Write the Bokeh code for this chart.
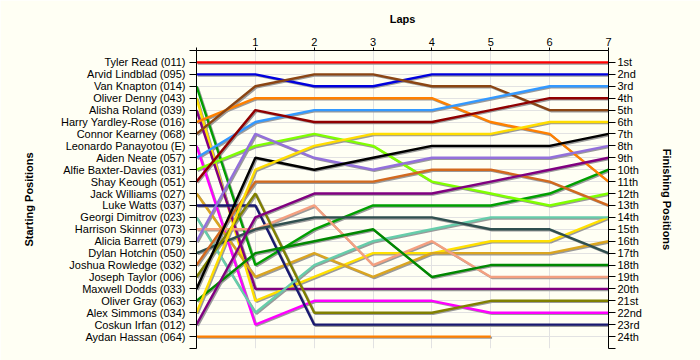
from bokeh.plotting import figure
from bokeh.models import Range1d, LinearAxis, FixedTicker, ColumnDataSource
from bokeh.transform import dodge
from bokeh.embed import file_html
from bokeh.resources import INLINE

# ---------------- data ----------------
laps = [0, 1, 2, 3, 4, 5, 6, 7]
lap_labels = ["", "1", "2", "3", "4", "5", "6", "7"]

starting_names = [
    "Tyler Read (011)", "Arvid Lindblad (095)", "Van Knapton (014)", "Oliver Denny (043)",
    "Alisha Roland (039)", "Harry Yardley-Rose (016)", "Connor Kearney (068)",
    "Leonardo Panayotou (E)", "Aiden Neate (057)", "Alfie Baxter-Davies (031)",
    "Shay Keough (051)", "Jack Williams (027)", "Luke Watts (037)", "Georgi Dimitrov (023)",
    "Harrison Skinner (073)", "Alicia Barrett (079)", "Dylan Hotchin (050)",
    "Joshua Rowledge (032)", "Joseph Taylor (006)", "Maxwell Dodds (033)",
    "Oliver Gray (063)", "Alex Simmons (034)", "Coskun Irfan (012)", "Aydan Hassan (064)",
]

finish_labels = [
    "1st", "2nd", "3rd", "4th", "5th", "6th", "7th", "8th", "9th", "10th", "11th", "12th",
    "13th", "14th", "15th", "16th", "17th", "18th", "19th", "20th", "21st", "22nd", "23rd", "24th",
]

# position of each driver after each lap (lap 0 = start)
tyler_read = [1, 1, 1, 1, 1, 1, 1, 1]
arvid_lindblad = [2, 2, 3, 3, 2, 2, 2, 2]
van_knapton = [3, 18, 15, 13, 13, 13, 12, 10]
oliver_denny = [4, 21, 19, 17, 17, 16, 16, 14]
alisha_roland = [5, 20, 20, 20, 20, 20, 20, 20]
harry_yardley_rose = [6, 4, 4, 4, 4, 6, 7, 11]
connor_kearney = [7, 3, 2, 2, 3, 3, 5, 5]
leonardo_panayotou = [8, 23, 21, 21, 21, 22, 22, 22]
aiden_neate = [9, 6, 5, 5, 5, 4, 3, 3]
alfie_baxter_davies = [10, 8, 7, 8, 11, 12, 13, 12]
shay_keough = [11, 5, 6, 6, 6, 5, 4, 4]
jack_williams = [12, 19, 17, 19, 17, 17, 17, 16]
luke_watts = [13, 13, 23, 23, 23, 23, 23, 23]
georgi_dimitrov = [14, 22, 18, 16, 15, 14, 14, 14]
harrison_skinner = [15, 15, 13, 18, 16, 19, 19, 19]
alicia_barrett = [16, 7, 9, 10, 9, 9, 9, 8]
dylan_hotchin = [17, 15, 14, 14, 14, 15, 15, 17]
joshua_rowledge = [18, 11, 11, 11, 10, 10, 11, 13]
joseph_taylor = [19, 12, 22, 22, 22, 21, 21, 21]
maxwell_dodds = [20, 9, 10, 9, 8, 8, 8, 7]
oliver_gray = [21, 17, 16, 15, 19, 18, 18, 18]
alex_simmons = [22, 10, 8, 7, 7, 7, 6, 6]
coskun_irfan = [23, 14, 12, 12, 12, 11, 10, 9]
aydan_hassan = [24, 24, 24, 24, 24, 24]  # retired after lap 5

series = [
    tyler_read, arvid_lindblad, van_knapton, oliver_denny, alisha_roland,
    harry_yardley_rose, connor_kearney, leonardo_panayotou, aiden_neate,
    alfie_baxter_davies, shay_keough, jack_williams, luke_watts, georgi_dimitrov,
    harrison_skinner, alicia_barrett, dylan_hotchin, joshua_rowledge, joseph_taylor,
    maxwell_dodds, oliver_gray, alex_simmons, coskun_irfan, aydan_hassan,
]

# ---------------- styles ----------------
colors = [
    "#ff0000", "#0000dd", "#00a000", "#ffe000", "#800080", "#ff8000", "#8b4513",
    "#ff00ff", "#3399ff", "#80ff00", "#900000", "#daa520", "#191970", "#66cdaa",
    "#f4a080", "#9370db", "#2f4f4f", "#d2691e", "#808000", "#000000", "#008800",
    "#ffdd00", "#800080", "#ff8000",
]
BG = "#fffff4"
FONT = "Liberation Sans"

p = figure(
    width=700, height=360,
    x_range=Range1d(0, 7), y_range=Range1d(25, 0),
    x_axis_location="above",
    output_backend="svg", toolbar_location=None,
    min_border_left=196, min_border_right=92, min_border_top=50, min_border_bottom=12,
    background_fill_color=BG, border_fill_color=BG, outline_line_color=None,
)

# grids
p.xgrid.ticker = FixedTicker(ticks=laps[1:])
p.ygrid.ticker = FixedTicker(ticks=list(range(1, 25)))
p.xgrid.grid_line_color = "#e2e2e2"
p.ygrid.grid_line_color = "#e2e2e2"

# shadows first
for s in series:
    src = ColumnDataSource(dict(x=laps[:len(s)], y=s))
    p.line(x=dodge("x", 0.022, range=p.x_range), y=dodge("y", 0.1, range=p.y_range),
           source=src, line_color="#9a9a9a", line_width=2.2)
for s, c in zip(series, colors):
    src = ColumnDataSource(dict(x=laps[:len(s)], y=s))
    p.line(x="x", y="y", source=src, line_color=c, line_width=2.4)

def style_axis(ax):
    ax.major_label_text_font = FONT
    ax.major_label_text_font_size = "11px"
    ax.major_label_text_color = "#000000"
    ax.axis_label_text_font = FONT
    ax.axis_label_text_font_size = "11px"
    ax.axis_label_text_font_style = "bold"
    ax.axis_label_text_color = "#000000"
    ax.axis_line_color = "#000000"
    ax.major_tick_line_color = "#000000"
    ax.minor_tick_line_color = None
    ax.major_tick_in = 0

# top axis
top = p.xaxis[0]
top.ticker = FixedTicker(ticks=laps)
top.major_label_overrides = {l: t for l, t in zip(laps, lap_labels)}
top.axis_label = "Laps"
style_axis(top)
top.major_tick_out = 3
top.major_label_standoff = 2
top.axis_label_standoff = 10

# left axis (starting positions)
left = p.yaxis[0]
left.ticker = FixedTicker(ticks=list(range(0, 26)))
ov = {0: "", 25: ""}
for i, n in enumerate(starting_names):
    ov[i + 1] = n
left.major_label_overrides = ov
left.axis_label = "Starting Positions"
style_axis(left)
left.major_tick_out = 7
left.major_label_standoff = 4
left.axis_label_standoff = 23

# right axis (finishing positions)
right = LinearAxis(ticker=FixedTicker(ticks=list(range(1, 26))))
rov = {25: ""}
for i, n in enumerate(finish_labels):
    rov[i + 1] = n
right.major_label_overrides = rov
right.axis_label = "Finishing Positions"
style_axis(right)
right.major_tick_out = 7
right.major_label_standoff = 2
right.axis_label_standoff = 16
p.add_layout(right, "right")

open("out.html", "w").write(file_html(p, INLINE))
